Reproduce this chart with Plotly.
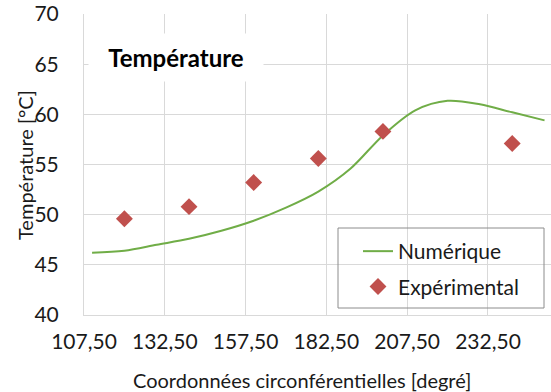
import plotly.graph_objects as go

# Numerical curve
num_x = [110, 120, 130, 140, 150, 160, 170, 180, 190, 200, 210, 220, 230, 240, 250]
num_y = [46.2, 46.4, 47.0, 47.6, 48.4, 49.4, 50.7, 52.3, 54.6, 57.9, 60.4, 61.35, 61.0, 60.2, 59.4]

# Experimental points
exp_x = [120, 140, 160, 180, 200, 240]
exp_y = [49.6, 50.8, 53.2, 55.6, 58.3, 57.1]

x_tickvals = [107.5, 132.5, 157.5, 182.5, 207.5, 232.5]
x_ticktext = ["107,50", "132,50", "157,50", "182,50", "207,50", "232,50"]
y_tickvals = [40, 45, 50, 55, 60, 65, 70]

FONT = "Lato"
TXT = "#1a1a1a"
GRID = "#d9d9d9"

L, R, T, B = 84, 551, 14, 315
PW, PH = R - L, B - T


def px(xp):
    return (xp - L) / PW


def py(yp):
    return (B - yp) / PH


fig = go.Figure()
fig.add_trace(go.Scatter(
    x=num_x, y=num_y, mode="lines", name="Numérique",
    line=dict(color="#70AD47", width=2, shape="spline", smoothing=0.9),
    legendgroup="a",
))
fig.add_trace(go.Scatter(
    x=exp_x, y=exp_y, mode="markers", name="Expérimental",
    marker=dict(symbol="diamond", color="#C0504D", size=13),
    legendgroup="b",
))

fig.update_layout(
    width=551, height=392,
    margin=dict(l=L, r=551 - R, t=T, b=392 - B, autoexpand=False),
    paper_bgcolor="white", plot_bgcolor="white",
    font=dict(family=FONT, size=18, color=TXT),
    showlegend=True,
    legend=dict(
        x=px(358), xanchor="left", y=py(231), yanchor="top",
        bgcolor="rgba(0,0,0,0)", borderwidth=0,
        font=dict(family=FONT, size=21, color=TXT),
        traceorder="grouped", tracegroupgap=5,
    ),
    shapes=[dict(
        type="rect", xref="paper", yref="paper",
        x0=px(338), x1=px(544), y0=py(308), y1=py(228),
        line=dict(color="#8c8c8c", width=1), fillcolor="rgba(0,0,0,0)",
        layer="above",
    )],
    annotations=[
        dict(
            text="<b>Température</b>", xref="paper", yref="paper",
            x=px(176), y=py(57.5),
            xanchor="center", yanchor="middle", showarrow=False,
            width=172, height=45, bgcolor="white",
            font=dict(family=FONT, size=24, color="black"),
        ),
        dict(
            text="Coordonnées circonférentielles [degré]", xref="paper", yref="paper",
            x=px(302), y=py(380), xanchor="center", yanchor="middle", showarrow=False,
            font=dict(family=FONT, size=20, color=TXT),
        ),
        dict(
            text="Température [°C]", xref="paper", yref="paper",
            x=px(25), y=py(165), xanchor="center", yanchor="middle", showarrow=False,
            textangle=-90,
            font=dict(family=FONT, size=20, color=TXT),
        ),
    ],
)

fig.update_xaxes(
    range=[107.5, 252],
    tickvals=x_tickvals, ticktext=x_ticktext,
    showgrid=True, gridcolor=GRID, gridwidth=1,
    showline=True, linecolor=GRID, linewidth=1,
    zeroline=False, ticks="", ticklabelstandoff=8,
    tickfont=dict(size=21), automargin=False,
)
fig.update_yaxes(
    range=[40, 70],
    tickvals=y_tickvals,
    showgrid=True, gridcolor=GRID, gridwidth=1,
    showline=True, linecolor=GRID, linewidth=1,
    zeroline=False, ticks="", ticklabelstandoff=20,
    tickfont=dict(size=21), automargin=False,
)

fig.write_html(
    "out.html",
    config={"displayModeBar": False},
    post_script="document.body.style.margin='0';document.body.style.overflow='hidden';",
)
